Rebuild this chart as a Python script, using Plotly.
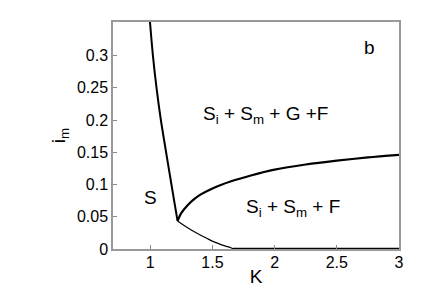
import plotly.graph_objects as go

# Boundary between S and the other regions (steep curve)
k_left = [0.997, 1.021, 1.050, 1.085, 1.127, 1.170, 1.196, 1.219]
i_left = [0.353, 0.300, 0.250, 0.200, 0.150, 0.100, 0.070, 0.0435]

# Upper branch (thick)
k_upper = [1.219, 1.25, 1.30, 1.35, 1.40, 1.50, 1.65, 1.809, 2.0, 2.25, 2.5, 2.75, 3.0]
i_upper = [0.0435, 0.056, 0.068, 0.077, 0.084, 0.094, 0.105, 0.114, 0.123, 0.131, 0.137, 0.142, 0.146]

# Lower branch (thin)
k_lower = [1.219, 1.30, 1.379, 1.45, 1.513, 1.58, 1.648, 1.665]
i_lower = [0.0435, 0.033, 0.024, 0.017, 0.011, 0.006, 0.002, 0.0]

# Segment along the K axis (thick)
k_base = [1.665, 3.0]
i_base = [0.0, 0.0]

x_ticks = [1, 1.5, 2, 2.5, 3]
y_ticks = [0, 0.05, 0.1, 0.15, 0.2, 0.25, 0.3]

FONT = "Liberation Sans, Arial, sans-serif"

fig = go.Figure()
fig.add_trace(go.Scatter(x=k_left, y=i_left, mode="lines", line=dict(color="black", width=2, shape="spline", smoothing=0.8), hoverinfo="skip"))
fig.add_trace(go.Scatter(x=k_upper, y=i_upper, mode="lines", line=dict(color="black", width=2.2, shape="spline", smoothing=0.8), hoverinfo="skip"))
fig.add_trace(go.Scatter(x=k_lower, y=i_lower, mode="lines", line=dict(color="black", width=1.2, shape="spline"), hoverinfo="skip"))
fig.add_trace(go.Scatter(x=k_base, y=i_base, mode="lines", line=dict(color="black", width=2.5), hoverinfo="skip"))

ann_font = dict(family=FONT, size=19, color="black")
fig.add_annotation(x=1.0, y=0.080, text="S", showarrow=False, font=ann_font, xanchor="center", yanchor="middle")
fig.add_annotation(x=1.406, y=0.208, text="S<sub>i</sub> + S<sub>m</sub> + G +F", showarrow=False, font=ann_font, xanchor="left", yanchor="middle")
fig.add_annotation(x=1.752, y=0.064, text="S<sub>i</sub> + S<sub>m</sub> + F", showarrow=False, font=ann_font, xanchor="left", yanchor="middle")
fig.add_annotation(x=2.76, y=0.312, text="b", showarrow=False, font=ann_font, xanchor="center", yanchor="middle")

# page body adds an 8px offset; figure is sized to compensate
fig.update_layout(
    width=428, height=292,
    margin=dict(l=105, r=37, t=14, b=51),
    plot_bgcolor="white", paper_bgcolor="white",
    showlegend=False,
    font=dict(family=FONT, size=16, color="black"),
)
fig.update_xaxes(
    range=[0.7, 3.0], tickvals=x_ticks, ticktext=[str(v) for v in x_ticks],
    ticks="inside", ticklen=4, tickcolor="#888", showgrid=False, zeroline=False,
    showline=True, linecolor="#999", linewidth=1.5, mirror=True, automargin=False,
    ticklabelstandoff=-2,
    title=dict(text="K", font=dict(family=FONT, size=19), standoff=0),
    tickfont=dict(family=FONT, size=16),
)
fig.update_yaxes(
    range=[0, 0.352], tickvals=y_ticks, ticktext=["0", "0.05", "0.1", "0.15", "0.2", "0.25", "0.3"],
    ticks="inside", ticklen=4, tickcolor="#888", showgrid=False, zeroline=False,
    showline=True, linecolor="#999", linewidth=1.5, mirror=True, automargin=False,
    title=dict(text="i<sub>m</sub>", font=dict(family=FONT, size=19), standoff=6),
    tickfont=dict(family=FONT, size=16),
)

fig.write_html("out.html")
